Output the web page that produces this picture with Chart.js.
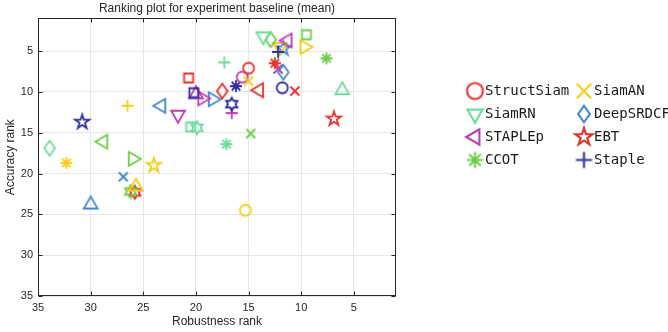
<!DOCTYPE html>
<html>
<head>
<meta charset="utf-8">
<script src="https://cdn.jsdelivr.net/npm/chart.js@4"></script>
<style>
  html, body { margin: 0; padding: 0; background: #fff; }
  #wrap { width: 668px; height: 332px; }
</style>
</head>
<body>
<div id="wrap"><canvas id="rankChart"></canvas></div>
<script>
// tracker ranks (x = robustness rank, y = accuracy rank)
const trackerNames = [
  'StructSiam', 'SiamAN', 'SiamRN', 'DeepSRDCF', 'STAPLEp', 'EBT', 'CCOT', 'Staple',
  'Tracker 9', 'Tracker 10', 'Tracker 11', 'Tracker 12', 'Tracker 13', 'Tracker 14',
  'Tracker 15', 'Tracker 16', 'Tracker 17', 'Tracker 18', 'Tracker 19', 'Tracker 20',
  'Tracker 21', 'Tracker 22', 'Tracker 23', 'Tracker 24', 'Tracker 25', 'Tracker 26',
  'Tracker 27', 'Tracker 28', 'Tracker 29', 'Tracker 30', 'Tracker 31', 'Tracker 32',
  'Tracker 33', 'Tracker 34', 'Tracker 35', 'Tracker 36', 'Tracker 37', 'Tracker 38',
  'Tracker 39', 'Tracker 40', 'Tracker 41', 'Tracker 42', 'Tracker 43', 'Tracker 44',
  'Tracker 45', 'Tracker 46', 'Tracker 47', 'Tracker 48', 'Tracker 49'
];
const robustnessRank = [
  15.0, 15.0, 13.6, 11.7, 11.3, 6.9, 7.6, 12.2,
  15.6, 16.2, 17.5, 14.0, 11.8, 10.6,
  6.1, 9.7, 9.5, 12.9, 12.0, 11.7,
  12.5, 12.2, 17.3, 20.7, 20.2, 20.0,
  19.4, 18.4, 16.6, 16.6, 23.3, 21.7,
  20.5, 19.9, 26.5, 30.8, 14.8, 17.1,
  33.9, 28.8, 32.3, 26.0, 24.0, 26.9,
  25.7, 26.2, 25.8, 30.0, 15.3
];
const accuracyRank = [
  7.1, 8.7, 3.2, 7.6, 3.7, 13.3, 5.9, 5.1,
  8.2, 9.3, 9.9, 9.8, 9.5, 9.9,
  9.8, 4.5, 3.0, 3.6, 4.5, 4.7,
  6.5, 7.2, 6.4, 8.3, 10.1, 10.3,
  10.8, 10.9, 11.5, 12.6, 11.7, 12.8,
  14.3, 14.4, 11.7, 13.7, 15.1, 16.4,
  16.9, 16.1, 18.7, 18.2, 19.0, 20.4,
  21.6, 22.2, 22.3, 23.8, 24.5
];
const xTickLabels = [35, 30, 25, 20, 15, 10, 5];
const yTickLabels = [5, 10, 15, 20, 25, 30, 35];
const legendCount = 8;

// marker styles, same order as the trackers
const RED = '#e8302c', YEL = '#f8cc18', MINT = '#6edc9c', BLUE = '#3f87cf',
      NAVY = '#2c2f9c', MAG = '#c23ab0', LIME = '#6bcd45';
const markerShapes = [
  'o', 'x', 'v', 'd', '<', 'p', '*', '+',
  'o', '*', 'd', '<', 'o', 'x',
  '^', '>', 's', 'd', 'v', 'p',
  '*', 'x', '+', 's', 's', '^',
  '>', '>', 'h', '+', '<', 'v',
  's', 'h', '+', 'p', 'x', '*',
  'd', '<', '*', '>', 'p', 'x',
  '^', 'h', 'h', '^', 'o'
];
const markerColors = [
  RED, YEL, MINT, BLUE, MAG, RED, LIME, NAVY,
  MAG, NAVY, RED, RED, NAVY, RED,
  MINT, YEL, LIME, LIME, YEL, BLUE,
  RED, MAG, MINT, RED, NAVY, MAG,
  MAG, BLUE, NAVY, MAG, BLUE, MAG,
  MINT, MINT, YEL, NAVY, LIME, MINT,
  MINT, LIME, YEL, LIME, YEL, BLUE,
  YEL, LIME, RED, BLUE, YEL
];
// legend icons are drawn a little bigger, per shape
const legendScale = { 'o': 1.45, 'x': 1.6, 'v': 1.1, '^': 1.1, '<': 1.1, '>': 1.1, 'd': 1.1, 'p': 1.2, '*': 1.35, '+': 1.35, 's': 1.4, 'h': 1.3 };

function starPath(c, x, y, n, R, r) {
  for (let i = 0; i < n * 2; i++) {
    const a = -Math.PI / 2 + i * Math.PI / n;
    const rad = i % 2 === 0 ? R : r;
    const px = x + rad * Math.cos(a), py = y + rad * Math.sin(a);
    if (i === 0) c.moveTo(px, py); else c.lineTo(px, py);
  }
  c.closePath();
}

// draws a MATLAB-like marker into a small canvas used as pointStyle
function makeMarker(shape, color, k, lw) {
  const size = Math.ceil(20 * k) + 4;
  const cv = document.createElement('canvas');
  cv.width = size; cv.height = size;
  const c = cv.getContext('2d');
  const x = size / 2, y = size / 2;
  c.strokeStyle = color;
  c.lineWidth = lw;
  c.beginPath();
  if (shape === 'o') {
    c.arc(x, y, 5.5 * k, 0, Math.PI * 2);
  } else if (shape === 'x') {
    const h = 4.5 * k;
    c.moveTo(x - h, y - h); c.lineTo(x + h, y + h);
    c.moveTo(x - h, y + h); c.lineTo(x + h, y - h);
  } else if (shape === '+') {
    const h = 6 * k;
    c.moveTo(x - h, y); c.lineTo(x + h, y);
    c.moveTo(x, y - h); c.lineTo(x, y + h);
  } else if (shape === '*') {
    const h = 6 * k, d = h * 0.707;
    c.moveTo(x - h, y); c.lineTo(x + h, y);
    c.moveTo(x, y - h); c.lineTo(x, y + h);
    c.moveTo(x - d, y - d); c.lineTo(x + d, y + d);
    c.moveTo(x - d, y + d); c.lineTo(x + d, y - d);
  } else if (shape === 's') {
    const h = 4.5 * k;
    c.rect(x - h, y - h, h * 2, h * 2);
  } else if (shape === 'd') {
    const w = 5.3 * k, h = 7.5 * k;
    c.moveTo(x, y - h); c.lineTo(x + w, y); c.lineTo(x, y + h); c.lineTo(x - w, y);
    c.closePath();
  } else if ('^v<>'.includes(shape)) {
    const a0 = { '^': -90, 'v': 90, '<': 180, '>': 0 }[shape] * Math.PI / 180;
    const r = 8 * k;
    for (let i = 0; i < 3; i++) {
      const a = a0 + i * 2 * Math.PI / 3;
      const px = x + r * Math.cos(a), py = y + r * Math.sin(a);
      if (i === 0) c.moveTo(px, py); else c.lineTo(px, py);
    }
    c.closePath();
  } else if (shape === 'p') {
    starPath(c, x, y, 5, 7.5 * k, 7.5 * k * 0.382);
  } else if (shape === 'h') {
    starPath(c, x, y, 6, 6.5 * k, 6.5 * k * 0.577);
  }
  c.stroke();
  return cv;
}

const datasets = trackerNames.map((name, i) => ({
  label: name,
  data: [{ x: robustnessRank[i], y: accuracyRank[i] }],
  pointStyle: makeMarker(markerShapes[i], markerColors[i], 1, 1.8),
  pointRadius: 6,
  borderColor: markerColors[i],
  backgroundColor: markerColors[i]
}));
const legendMarkers = trackerNames.slice(0, legendCount)
  .map((name, i) => makeMarker(markerShapes[i], markerColors[i], legendScale[markerShapes[i]], 2.1));

const axisFont = { family: '"Liberation Sans", Arial, sans-serif', size: 11 };
const labelFont = { family: '"Liberation Sans", Arial, sans-serif', size: 12 };
const ink = '#262626';

// black box with inward ticks, like the MATLAB axes
const framePlugin = {
  id: 'frame',
  beforeDatasetsDraw(chart) {
    const { ctx, chartArea: a, scales: { x, y } } = chart;
    const l = Math.round(a.left) + 0.5, r = Math.round(a.right) - 0.5;
    const t = Math.round(a.top) + 0.5, b = Math.round(a.bottom) - 0.5;
    ctx.save();
    ctx.strokeStyle = ink;
    ctx.lineWidth = 1;
    ctx.strokeRect(l, t, r - l, b - t);
    ctx.beginPath();
    xTickLabels.forEach(v => {
      const px = Math.round(x.getPixelForValue(v)) + 0.5;
      ctx.moveTo(px, b); ctx.lineTo(px, b - 4);
      ctx.moveTo(px, t); ctx.lineTo(px, t + 4);
    });
    yTickLabels.forEach(v => {
      const py = Math.round(y.getPixelForValue(v)) + 0.5;
      ctx.moveTo(l, py); ctx.lineTo(l + 4, py);
      ctx.moveTo(r, py); ctx.lineTo(r - 4, py);
    });
    ctx.stroke();
    ctx.restore();
  }
};

// two-column legend to the right of the axes
const legendPlugin = {
  id: 'sideLegend',
  afterDraw(chart) {
    const ctx = chart.ctx;
    ctx.save();
    ctx.font = '14px "DejaVu Sans Mono", monospace';
    ctx.fillStyle = '#1a1a1a';
    ctx.textBaseline = 'middle';
    legendMarkers.forEach((img, i) => {
      const col = i % 2, row = Math.floor(i / 2);
      const mx = 475 + col * 109, my = 91 + row * 23;
      ctx.drawImage(img, mx - img.width / 2, my - img.height / 2);
      ctx.fillText(trackerNames[i], mx + 10, my);
    });
    ctx.restore();
  }
};

new Chart(document.getElementById('rankChart'), {
  type: 'scatter',
  data: { datasets },
  options: {
    responsive: true,
    maintainAspectRatio: false,
    animation: false,
    layout: { padding: { top: 1, right: 272, bottom: 0, left: 0 } },
    plugins: {
      legend: { display: false },
      tooltip: { enabled: false },
      title: {
        display: true,
        text: 'Ranking plot for experiment baseline (mean)',
        fullSize: false,
        color: ink,
        font: { ...labelFont, weight: 'normal' },
        padding: { top: 0, bottom: 3 }
      }
    },
    scales: {
      x: {
        type: 'linear',
        reverse: true,
        min: 1,
        max: 35,
        afterBuildTicks: s => { s.ticks = xTickLabels.map(v => ({ value: v })); },
        afterFit: s => { s.height = 36; },
        grid: { color: '#e6e6e6', drawTicks: false },
        border: { display: false },
        ticks: { padding: 5, color: ink, font: axisFont },
        title: { display: true, text: 'Robustness rank', color: ink, font: labelFont, padding: { top: 0, bottom: 3 } }
      },
      y: {
        type: 'linear',
        reverse: true,
        min: 1,
        max: 35,
        afterBuildTicks: s => { s.ticks = yTickLabels.map(v => ({ value: v })); },
        afterFit: s => { s.width = 38; },
        grid: { color: '#e6e6e6', drawTicks: false },
        border: { display: false },
        ticks: { padding: 5, color: ink, font: axisFont },
        title: { display: true, text: 'Accuracy rank', color: ink, font: labelFont, padding: { top: 3, bottom: 0 } }
      }
    }
  },
  plugins: [framePlugin, legendPlugin]
});
</script>
</body>
</html>
